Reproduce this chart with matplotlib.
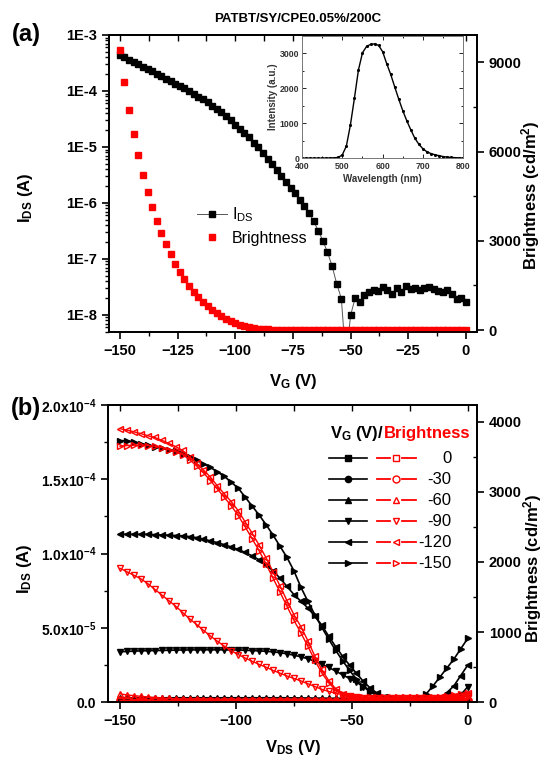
import matplotlib
matplotlib.use("Agg")
import matplotlib.pyplot as plt
import matplotlib.ticker as mticker
from matplotlib.lines import Line2D
import numpy as np

plt.rcParams['font.family'] = ['Liberation Sans', 'DejaVu Sans']
plt.rcParams['font.weight'] = 'bold'
plt.rcParams['axes.labelweight'] = 'bold'
plt.rcParams['mathtext.default'] = 'regular'
plt.rcParams['axes.linewidth'] = 1.3

# ---------------- panel (a): transfer curve ----------------
vg_a = np.arange(-150, 1, 2)  # gate sweep, 2 V step

# I_DS (A)
ids_a = [4.37e-4, 3.98e-4, 3.63e-4, 3.31e-4, 3.02e-4, 2.69e-4, 2.45e-4, 2.24e-4, 2.04e-4, 1.82e-4,
         1.66e-4, 1.51e-4, 1.35e-4, 1.23e-4, 1.12e-4, 1.00e-4, 8.9e-5, 7.9e-5, 7.1e-5, 6.3e-5,
         5.5e-5, 4.8e-5, 4.2e-5, 3.5e-5, 3.0e-5, 2.5e-5, 2.1e-5, 1.78e-5, 1.48e-5, 1.20e-5,
         9.8e-6, 7.8e-6, 6.2e-6, 4.9e-6, 3.9e-6, 3.0e-6, 2.4e-6, 1.86e-6, 1.48e-6, 1.15e-6,
         8.9e-7, 6.6e-7, 4.7e-7, 3.2e-7, 2.1e-7, 1.32e-7, 7.4e-8, 3.6e-8,
         1.95e-8, 1.5e-9, 9.8e-9, 2.0e-8, 1.7e-8, 2.3e-8, 2.6e-8, 2.8e-8, 2.7e-8, 3.2e-8,
         2.8e-8, 2.4e-8, 3.0e-8, 2.6e-8, 3.3e-8, 2.9e-8, 3.0e-8, 2.8e-8, 3.0e-8, 3.2e-8,
         2.9e-8, 2.7e-8, 2.6e-8, 2.8e-8, 2.4e-8, 1.9e-8, 2.0e-8, 1.7e-8]

# brightness (cd/m2), right axis
bright_a = [9400, 8340, 7390, 6580, 5870, 5220, 4650, 4150, 3680, 3270,
            2900, 2540, 2230, 1950, 1710, 1480, 1280, 1100, 950, 800,
            670, 560, 460, 370, 300, 235, 180, 135, 90, 56,
            40, 30, 22, 16, 12, 9, 7, 5, 4, 3, 2, 2, 1, 1, 1,
            0, 0, 0, 0, 0, 0, 0, 0, 0, 0, 0, 0, 0, 0, 0, 0,
            0, 0, 0, 0, 0, 0, 0, 0, 0, 0, 0, 0, 0, 0, 0]

# inset EL spectrum
wavelength = np.arange(400, 801, 10)
intensity = [5, 5, 5, 5, 5, 5, 8, 10, 15, 25, 100, 350, 950, 1720, 2530, 3020, 3200, 3260, 3275, 3230,
             3050, 2710, 2400, 2040, 1690, 1360, 1070, 810, 570, 400, 270, 185, 135, 100, 75, 50,
             35, 25, 18, 12, 10]

# ---------------- panel (b): output curves ----------------
vds_b = np.arange(-150, 1, 3)  # drain sweep, 3 V step
vg_labels = ['0', '-30', '-60', '-90', '-120', '-150']
markers = ['s', 'o', '^', 'v', '<', '>']

# I_DS in units of 1e-5 A
ids_vg0 = [0.05, 0.05, 0.06, 0.05, 0.05, 0.06, 0.05, 0.05, 0.06, 0.05,
           0.05, 0.06, 0.05, 0.05, 0.06, 0.05, 0.05, 0.06, 0.05, 0.05,
           0.05, 0.05, 0.05, 0.05, 0.05, 0.04, 0.04, 0.04, 0.04, 0.04,
           0.04, 0.04, 0.03, 0.03, 0.03, 0.03, 0.03, 0.03, 0.03, 0.03,
           0.03, 0.03, 0.03, 0.03, 0.03, 0.03, 0.03, 0.03, 0.03, 0.03, 0.04]
ids_vg30 = [0.12, 0.12, 0.13, 0.12, 0.12, 0.13, 0.12, 0.12, 0.13, 0.12,
            0.12, 0.13, 0.12, 0.12, 0.13, 0.12, 0.12, 0.13, 0.12, 0.12,
            0.13, 0.12, 0.12, 0.13, 0.12, 0.12, 0.12, 0.11, 0.11, 0.11,
            0.10, 0.10, 0.10, 0.09, 0.09, 0.09, 0.08, 0.08, 0.08, 0.07,
            0.07, 0.07, 0.07, 0.06, 0.06, 0.06, 0.06, 0.06, 0.06, 0.07, 0.08]
ids_vg60 = [0.30, 0.31, 0.30, 0.31, 0.30, 0.31, 0.30, 0.31, 0.30, 0.31,
            0.30, 0.31, 0.30, 0.31, 0.30, 0.31, 0.30, 0.31, 0.30, 0.31,
            0.30, 0.31, 0.30, 0.31, 0.30, 0.30, 0.29, 0.29, 0.28, 0.28,
            0.27, 0.27, 0.26, 0.25, 0.24, 0.22, 0.20, 0.18, 0.16, 0.15,
            0.14, 0.13, 0.12, 0.12, 0.11, 0.11, 0.10, 0.10, 0.10, 0.10, 0.12]
ids_vg90 = [3.40, 3.42, 3.44, 3.46, 3.47, 3.48, 3.49, 3.50, 3.51, 3.52,
            3.52, 3.53, 3.53, 3.53, 3.53, 3.53, 3.52, 3.52, 3.50, 3.48,
            3.46, 3.43, 3.39, 3.34, 3.26, 3.17, 3.06, 2.93, 2.76, 2.57,
            2.35, 2.10, 1.85, 1.60, 1.35, 1.05, 0.75, 0.50, 0.30, 0.20,
            0.15, 0.15, 0.15, 0.15, 0.15, 0.15, 0.15, 0.15, 0.20, 0.50, 1.05]
ids_vg120 = [11.3, 11.3, 11.3, 11.3, 11.3, 11.28, 11.26, 11.24, 11.22, 11.2,
             11.15, 11.08, 10.98, 10.86, 10.74, 10.6, 10.45, 10.28, 10.08, 9.85,
             9.58, 9.25, 8.85, 8.35, 7.8, 7.25, 6.8, 6.35, 5.8, 5.2,
             4.45, 3.75, 3.1, 2.5, 1.95, 1.4, 0.95, 0.6, 0.35, 0.25,
             0.2, 0.2, 0.2, 0.2, 0.2, 0.2, 0.3, 0.65, 1.1, 1.8, 2.5]
ids_vg150 = [17.6, 17.6, 17.5, 17.4, 17.3, 17.2, 17.1, 17.0, 16.9, 16.7,
             16.5, 16.3, 16.05, 15.8, 15.5, 15.2, 14.8, 14.4, 13.8, 13.2,
             12.6, 11.95, 11.25, 10.5, 9.75, 8.85, 7.75, 6.8, 5.9, 5.05,
             4.25, 3.5, 2.8, 2.15, 1.55, 1.05, 0.68, 0.45, 0.3, 0.25,
             0.25, 0.25, 0.25, 0.3, 0.55, 1.1, 1.7, 2.3, 2.9, 3.6, 4.3]

# brightness in cd/m2
bright_vg0 = [12, 12, 11, 12, 11, 12, 11, 12, 11, 12, 11, 12, 11, 12, 11, 11, 11, 11, 11, 11,
              11, 10, 10, 10, 10, 10, 10, 10, 10, 10, 10, 10, 10, 10, 10, 10, 10, 10, 10, 10,
              10, 10, 10, 10, 10, 10, 10, 10, 10, 12, 15]
bright_vg30 = [28, 27, 27, 26, 26, 26, 25, 25, 25, 25, 25, 25, 24, 24, 24, 24, 24, 24, 23, 23,
               23, 23, 23, 22, 22, 22, 22, 22, 21, 21, 21, 21, 20, 20, 20, 20, 20, 20, 20, 20,
               20, 20, 20, 20, 20, 20, 21, 22, 24, 28, 35]
bright_vg60 = [120, 105, 95, 85, 76, 68, 61, 55, 50, 46, 43, 41, 39, 38, 37, 36, 35, 35, 34, 34,
               33, 33, 33, 32, 32, 32, 31, 31, 31, 30, 30, 30, 30, 30, 30, 30, 30, 30, 30, 30,
               30, 30, 30, 31, 32, 34, 37, 41, 46, 52, 60]
bright_vg90 = [1910, 1860, 1810, 1760, 1690, 1610, 1530, 1450, 1370, 1280,
               1190, 1110, 1025, 945, 870, 800, 735, 680, 630, 585,
               540, 500, 455, 415, 375, 340, 305, 265, 225, 185,
               155, 130, 110, 85, 70, 62, 60, 58, 58, 58,
               58, 58, 58, 58, 58, 60, 62, 65, 70, 78, 90]
bright_vg120 = [3900, 3880, 3855, 3830, 3800, 3775, 3735, 3690, 3645, 3590,
                3500, 3410, 3310, 3210, 3085, 2970, 2860, 2730, 2570, 2410,
                2240, 2060, 1860, 1660, 1450, 1250, 1080, 880, 660, 470,
                310, 195, 125, 85, 72, 68, 66, 65, 65, 65,
                65, 65, 65, 65, 66, 68, 72, 80, 92, 110, 135]
bright_vg150 = [3650, 3660, 3665, 3665, 3660, 3650, 3630, 3600, 3570, 3530,
                3460, 3370, 3270, 3160, 3040, 2920, 2800, 2660, 2500, 2330,
                2160, 1970, 1770, 1570, 1370, 1170, 990, 800, 600, 420,
                280, 175, 115, 85, 75, 72, 70, 70, 70, 70,
                70, 70, 70, 70, 72, 75, 80, 88, 100, 115, 130]

ids_b = [ids_vg0, ids_vg30, ids_vg60, ids_vg90, ids_vg120, ids_vg150]
bright_b = [bright_vg0, bright_vg30, bright_vg60, bright_vg90, bright_vg120, bright_vg150]

# ---------------- figure ----------------
W, H = 543, 757
fig = plt.figure(figsize=(W / 100, H / 100), dpi=100)


def box(l, t, r, b):
    # pixel box -> figure fraction
    return [l / W, 1 - b / H, (r - l) / W, (b - t) / H]


def style_ticks(ax):
    ax.tick_params(which='major', length=5, width=1.2, labelsize=10.5)
    ax.tick_params(which='minor', length=3, width=1.0)


# ---- (a) ----
ax1 = fig.add_axes(box(109, 35, 477, 331.7))
ax1.plot(vg_a, ids_a, color='#555555', lw=0.7, marker='s', ms=4.8, mfc='black', mec='black')
ax1.set_yscale('log')
ax1.set_ylim(5.0e-9, 1e-3)
ax1.set_xlim(-154.7, 4.8)
ax1.xaxis.set_major_locator(mticker.MultipleLocator(25))
ax1.xaxis.set_minor_locator(mticker.MultipleLocator(12.5))
ax1.yaxis.set_major_locator(mticker.LogLocator(base=10, numticks=12))
ax1.yaxis.set_minor_locator(mticker.LogLocator(base=10, subs=np.arange(2, 10), numticks=12))
ax1.yaxis.set_major_formatter(mticker.FuncFormatter(lambda v, _: f"1E{int(round(np.log10(v)))}"))
ax1.yaxis.set_minor_formatter(mticker.NullFormatter())
style_ticks(ax1)
ax1.set_xlabel(r'V$_G$ (V)', fontsize=12)
ax1.xaxis.set_label_coords(0.5, -0.135)
ax1.set_ylabel(r'I$_{DS}$ (A)', fontsize=12)
ax1.yaxis.set_label_coords(-0.2, 0.45)

top1 = ax1.secondary_xaxis('top')
top1.xaxis.set_major_locator(mticker.MultipleLocator(12.5))
top1.tick_params(direction='in', length=4, width=1.0, labeltop=False)

ax1r = ax1.twinx()
ax1r.plot(vg_a, bright_a, ls='none', marker='s', ms=5, color='#ff0000')
ax1r.set_ylim(-57, 9918)
ax1r.yaxis.set_major_locator(mticker.MultipleLocator(3000))
ax1r.yaxis.set_minor_locator(mticker.MultipleLocator(1500))
style_ticks(ax1r)
ax1r.tick_params(which='minor', direction='in')
ax1r.set_ylabel('Brightness (cd/m$^2$)', fontsize=12)
ax1r.yaxis.set_label_coords(1.115, 0.46)

h_ids = Line2D([], [], color='#555555', lw=0.7, marker='s', ms=4.8, mfc='black', mec='black')
h_bri = Line2D([], [], ls='none', marker='s', ms=5, color='#ff0000')
ax1r.legend([h_ids, h_bri], [r'I$_{DS}$', 'Brightness'], loc='upper left',
            bbox_to_anchor=(0.2, 0.475), frameon=False, handlelength=1.9,
            handletextpad=0.3, labelspacing=0.45, prop={'size': 11.5, 'weight': 'normal'})

# inset spectrum
axi = fig.add_axes(box(302, 36, 463.3, 158.3))
axi.plot(wavelength, intensity, color='black', lw=1.0, marker='.', ms=2.5)
axi.set_xlim(400, 800)
axi.set_ylim(0, 3500)
axi.xaxis.set_major_locator(mticker.MultipleLocator(100))
axi.xaxis.set_minor_locator(mticker.MultipleLocator(50))
axi.yaxis.set_major_locator(mticker.MultipleLocator(1000))
axi.yaxis.set_minor_locator(mticker.MultipleLocator(500))
axi.tick_params(which='both', direction='in', top=True, right=True, labelsize=6.3,
                labelcolor='#333333', width=0.6)
axi.tick_params(axis='x', pad=3.0)
axi.tick_params(axis='y', pad=2.0)
axi.tick_params(which='major', length=3)
axi.tick_params(which='minor', length=1.5)
for sp in axi.spines.values():
    sp.set_linewidth(0.7)
    sp.set_color('#777777')
axi.set_xlabel('Wavelength (nm)', fontsize=7, color='#333333', labelpad=1.5)
axi.set_ylabel('Intensity (a.u.)', fontsize=7, color='#333333', labelpad=1)

# ---- (b) ----
ax2 = fig.add_axes(box(108, 405, 477, 702.3))
for vals, m in zip(ids_b, markers):
    ax2.plot(vds_b, np.array(vals) * 1e-5, color='black', lw=1.2, marker=m, ms=4.5,
             mfc='black', mec='black')
ax2.set_xlim(-155.2, 4.0)
ax2.set_ylim(0, 2e-4)
ax2.xaxis.set_major_locator(mticker.MultipleLocator(50))
ax2.xaxis.set_minor_locator(mticker.MultipleLocator(25))
ax2.yaxis.set_major_locator(mticker.MultipleLocator(5e-5))
ax2.yaxis.set_minor_locator(mticker.MultipleLocator(2.5e-5))


def sci_fmt(v, _):
    if abs(v) < 1e-12:
        return '0.0'
    exp = int(np.floor(np.log10(abs(v)) + 1e-9))
    return f'{v / 10 ** exp:.1f}x10$^{{{exp}}}$'


ax2.yaxis.set_major_formatter(mticker.FuncFormatter(sci_fmt))
style_ticks(ax2)
ax2.tick_params(axis='y', labelsize=10)
ax2.set_xlabel(r'V$_{DS}$ (V)', fontsize=12)
ax2.xaxis.set_label_coords(0.5, -0.12)
ax2.set_ylabel(r'I$_{DS}$ (A)', fontsize=12)
ax2.yaxis.set_label_coords(-0.2, 0.45)

top2 = ax2.secondary_xaxis('top')
top2.xaxis.set_major_locator(mticker.MultipleLocator(25))
top2.tick_params(direction='in', length=4, width=1.0, labeltop=False)

ax2r = ax2.twinx()
for vals, m in zip(bright_b, markers):
    ax2r.plot(vds_b, vals, color='#ff0000', lw=1.0, marker=m, ms=5, mfc='none', mec='#ff0000')
ax2r.set_ylim(0, 4238)
ax2r.yaxis.set_major_locator(mticker.MultipleLocator(1000))
ax2r.yaxis.set_minor_locator(mticker.MultipleLocator(500))
style_ticks(ax2r)
ax2r.tick_params(which='minor', direction='in')
ax2r.set_ylabel('Brightness (cd/m$^2$)', fontsize=12)
ax2r.yaxis.set_label_coords(1.12, 0.45)

# legend of (b), drawn by hand: black sample, red sample, value
ax2r.text(0.748, 0.889, r'V$_G$ (V)/', ha='right', va='baseline', fontsize=12,
          transform=ax2r.transAxes)
ax2r.text(0.748, 0.889, 'Brightness', ha='left', va='baseline', fontsize=12,
          color='#ff0000', transform=ax2r.transAxes)
for i, (lab, m) in enumerate(zip(vg_labels, markers)):
    y = 0.821 - i * 0.0707
    ax2r.plot([0.599, 0.701], [y, y], color='black', lw=1.2, transform=ax2r.transAxes, clip_on=False)
    ax2r.plot([0.650], [y], color='black', marker=m, ms=4.5, transform=ax2r.transAxes, clip_on=False)
    ax2r.plot([0.729, 0.763], [y, y], color='#ff0000', lw=1.3, transform=ax2r.transAxes, clip_on=False)
    ax2r.plot([0.796, 0.835], [y, y], color='#ff0000', lw=1.3, transform=ax2r.transAxes, clip_on=False)
    ax2r.plot([0.780], [y], color='#ff0000', marker=m, ms=5, mfc='none',
              transform=ax2r.transAxes, clip_on=False)
    ax2r.text(0.931, y, lab, ha='right', va='center', fontsize=12, fontweight='normal',
              transform=ax2r.transAxes)

# panel tags and title
fig.text(26 / W, 1 - 35 / H, '(a)', fontsize=17, ha='center', va='center')
fig.text(26 / W, 1 - 408 / H, '(b)', fontsize=17, ha='center', va='center')
fig.text(298 / W, 1 - 19 / H, 'PATBT/SY/CPE0.05%/200C', fontsize=9.5, ha='center', va='center')

fig.savefig('out.png', dpi=100)
